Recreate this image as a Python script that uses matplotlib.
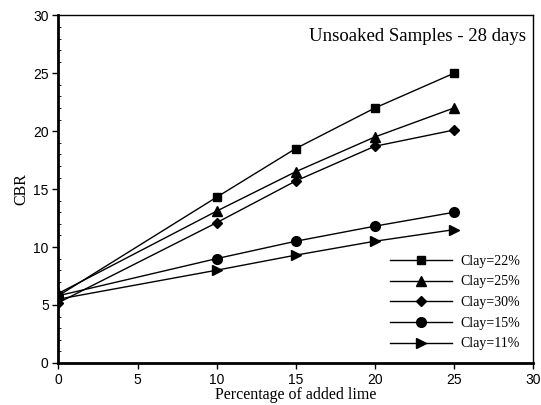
import matplotlib
matplotlib.use('Agg')
from matplotlib import pyplot as plt
from matplotlib.ticker import MultipleLocator

# DATA
lime = [0, 10, 15, 20, 25]
clay_22 = [5.8, 14.3, 18.5, 22.0, 25.0]
clay_25 = [6.0, 13.1, 16.5, 19.5, 22.0]
clay_30 = [5.2, 12.1, 15.7, 18.7, 20.1]
clay_15 = [5.8, 9.0, 10.5, 11.8, 13.0]
clay_11 = [5.5, 8.0, 9.3, 10.5, 11.5]

series = [
    ('Clay=22%', clay_22, 's'),
    ('Clay=25%', clay_25, '^'),
    ('Clay=30%', clay_30, 'D'),
    ('Clay=15%', clay_15, 'o'),
    ('Clay=11%', clay_11, '>'),
]
marker_sizes = {'s': 6, '^': 7, 'D': 5.5, 'o': 7, '>': 7}

serif = 'Liberation Serif'
plt.rcParams['font.family'] = 'Liberation Sans'

fig = plt.figure(figsize=(5.41, 4.05), dpi=100)
ax = fig.add_axes([0.108, 0.104, 0.877, 0.858])

for label, values, marker in series:
    ax.plot(lime, values, color='black', linewidth=1.0, marker=marker,
            markersize=marker_sizes[marker], label=label)

ax.set_xlim(0, 30)
ax.set_ylim(0, 30)
ax.xaxis.set_major_locator(MultipleLocator(5))
ax.yaxis.set_major_locator(MultipleLocator(5))
ax.yaxis.set_minor_locator(MultipleLocator(1))
ax.tick_params(which='major', direction='out', length=4, width=1, labelsize=10, pad=3)
ax.tick_params(axis='y', which='minor', direction='in', length=2, width=0.6)

ax.spines['left'].set_linewidth(2)
ax.spines['bottom'].set_linewidth(2)
ax.spines['top'].set_linewidth(1)
ax.spines['right'].set_linewidth(1)

ax.set_xlabel('Percentage of added lime', fontfamily=serif, fontsize=11.5, labelpad=0)
ax.set_ylabel('CBR', fontfamily=serif, fontsize=11.5, labelpad=3)

ax.text(0.985, 0.965, 'Unsoaked Samples - 28 days', transform=ax.transAxes,
        ha='right', va='top', fontfamily=serif, fontsize=13.5)

ax.legend(loc='lower right', frameon=False, handlelength=4.5, handletextpad=0.6,
          labelspacing=0.55, prop={'family': serif, 'size': 10},
          bbox_to_anchor=(1.0, 0.0))

fig.savefig('out.png', dpi=100)
